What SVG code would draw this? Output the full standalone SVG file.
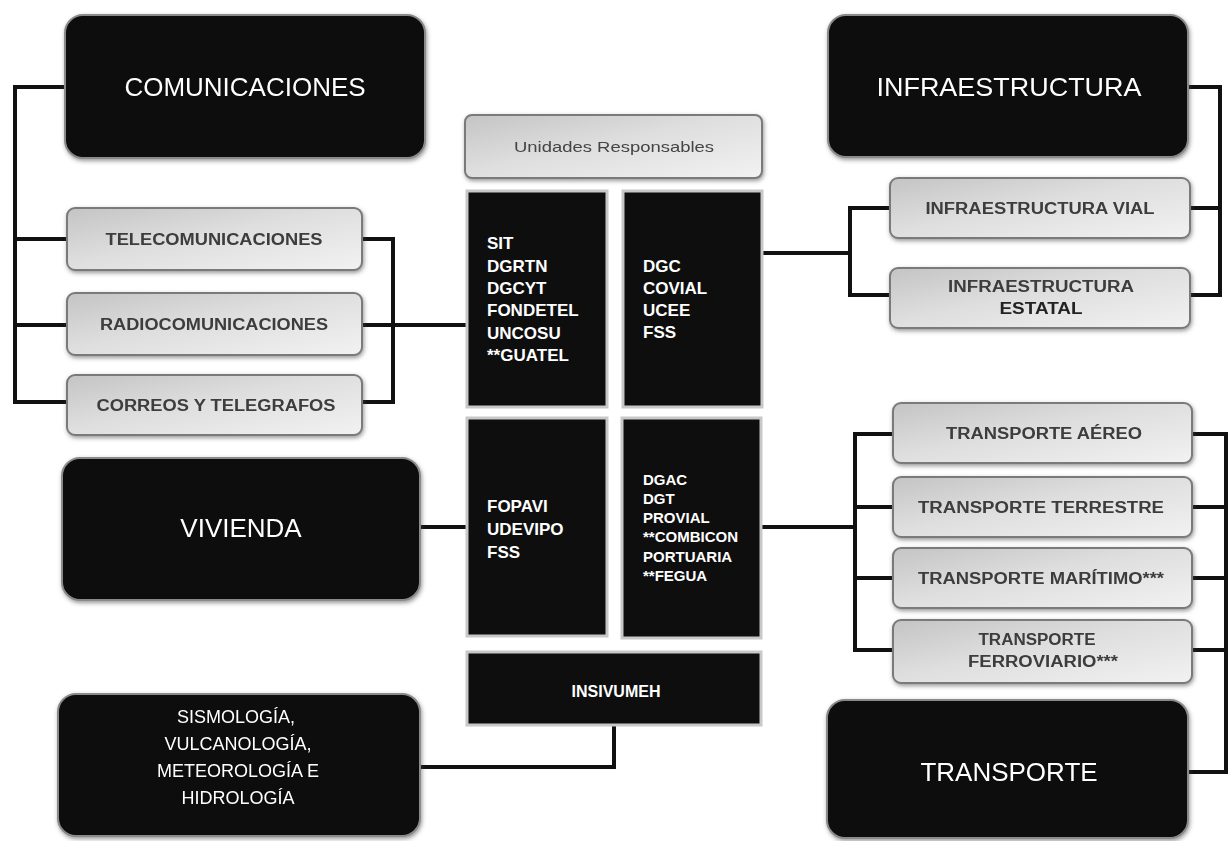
<svg xmlns="http://www.w3.org/2000/svg" width="1230" height="841" viewBox="0 0 1230 841">
  <defs>
    <linearGradient id="gSub" x1="0" y1="0" x2="1" y2="1">
      <stop offset="0" stop-color="#c4c4c4"/>
      <stop offset="0.45" stop-color="#dedede"/>
      <stop offset="1" stop-color="#f2f2f2"/>
    </linearGradient>
    <filter id="shadow" x="-10%" y="-10%" width="120%" height="125%">
      <feDropShadow dx="1" dy="2" stdDeviation="2" flood-color="#444" flood-opacity="0.55"/>
    </filter>
  </defs>
  <style>
    .main { fill: #0b0b0b; stroke: #8a8a8a; stroke-width: 2; }
    .sub { fill: url(#gSub); stroke: #7a7a7a; stroke-width: 2; }
    .unit { fill: #0e0e0e; stroke: #c8c8c8; stroke-width: 3; }
    .big { font-family: "Liberation Sans", Arial, sans-serif; font-size: 26px; fill: #fff; text-anchor: middle; }
    .mid { font-family: "Liberation Sans", Arial, sans-serif; font-size: 18px; fill: #fff; text-anchor: middle; }
    .lbl { font-family: "Liberation Sans", Arial, sans-serif; font-size: 16px; font-weight: bold; fill: #3c3c3c; text-anchor: middle; }
    .unidades { font-family: "Liberation Sans", Arial, sans-serif; font-size: 15px; fill: #444; text-anchor: middle; }
    .code { font-family: "Liberation Sans", Arial, sans-serif; font-size: 17px; font-weight: bold; fill: #fff; }
    .codeS { font-family: "Liberation Sans", Arial, sans-serif; font-size: 15px; font-weight: bold; fill: #fff; }
    .wire { fill: none; stroke: #111; stroke-width: 4; stroke-linejoin: miter; }
  </style>
  <rect width="1230" height="841" fill="#ffffff"/>

  <!-- connectors -->
  <g id="connectors" class="wire">
    <!-- comunicaciones branch -->
    <path d="M65 87 H15 V402 H67"/>
    <path d="M15 239 H67"/>
    <path d="M15 325 H67"/>
    <path d="M362 239 H393 V402 H362"/>
    <path d="M362 325 H467"/>
    <!-- infraestructura branch -->
    <path d="M1188 87 H1220 V295 H1190"/>
    <path d="M1190 208 H1220"/>
    <path d="M890 208 H850 V295 H890"/>
    <path d="M762 253 H850"/>
    <!-- vivienda -->
    <path d="M420 527 H467"/>
    <!-- transporte branch -->
    <path d="M893 434 H855 V650 H893"/>
    <path d="M855 507 H893"/>
    <path d="M855 578 H893"/>
    <path d="M760 527 H855"/>
    <path d="M1192 434 H1226 V772 H1188"/>
    <path d="M1192 507 H1226"/>
    <path d="M1192 578 H1226"/>
    <path d="M1192 650 H1226"/>
    <!-- sismologia -->
    <path d="M420 767 H614 V725"/>
  </g>

  <!-- main black nodes -->
  <g id="comunicaciones" filter="url(#shadow)">
    <rect class="main" x="65" y="15" width="360" height="143" rx="18"/>
    <text class="big" x="245" y="96">COMUNICACIONES</text>
  </g>
  <g id="infraestructura" filter="url(#shadow)">
    <rect class="main" x="828" y="15" width="360" height="142" rx="18"/>
    <text class="big" x="1009" y="96" textLength="265" lengthAdjust="spacingAndGlyphs">INFRAESTRUCTURA</text>
  </g>
  <g id="vivienda" filter="url(#shadow)">
    <rect class="main" x="62" y="458" width="358" height="142" rx="18"/>
    <text class="big" x="241" y="537">VIVIENDA</text>
  </g>
  <g id="transporte" filter="url(#shadow)">
    <rect class="main" x="827" y="700" width="361" height="138" rx="18"/>
    <text class="big" x="1009" y="781">TRANSPORTE</text>
  </g>
  <g id="sismologia" filter="url(#shadow)">
    <rect class="main" x="58" y="694" width="362" height="142" rx="18"/>
    <text class="mid" x="236" y="723">SISMOLOGÍA,</text>
    <text class="mid" x="238" y="750">VULCANOLOGÍA,</text>
    <text class="mid" x="238" y="777">METEOROLOGÍA E</text>
    <text class="mid" x="238" y="804">HIDROLOGÍA</text>
  </g>

  <!-- sub nodes: comunicaciones -->
  <g id="telecomunicaciones" filter="url(#shadow)">
    <rect class="sub" x="67" y="208" width="295" height="62" rx="8"/>
    <text class="lbl" x="214" y="245" textLength="217" lengthAdjust="spacingAndGlyphs">TELECOMUNICACIONES</text>
  </g>
  <g id="radiocomunicaciones" filter="url(#shadow)">
    <rect class="sub" x="67" y="293" width="295" height="62" rx="8"/>
    <text class="lbl" x="214" y="330" textLength="228" lengthAdjust="spacingAndGlyphs">RADIOCOMUNICACIONES</text>
  </g>
  <g id="correos" filter="url(#shadow)">
    <rect class="sub" x="67" y="375" width="295" height="60" rx="8"/>
    <text class="lbl" x="216" y="411" textLength="239" lengthAdjust="spacingAndGlyphs">CORREOS Y TELEGRAFOS</text>
  </g>

  <!-- sub nodes: infraestructura -->
  <g id="infra-vial" filter="url(#shadow)">
    <rect class="sub" x="890" y="178" width="300" height="60" rx="8"/>
    <text class="lbl" x="1040" y="214" textLength="229" lengthAdjust="spacingAndGlyphs">INFRAESTRUCTURA VIAL</text>
  </g>
  <g id="infra-estatal" filter="url(#shadow)">
    <rect class="sub" x="890" y="268" width="300" height="60" rx="8"/>
    <text class="lbl" x="1041" y="292" textLength="186" lengthAdjust="spacingAndGlyphs">INFRAESTRUCTURA</text>
    <text class="lbl" x="1041" y="314" textLength="83" lengthAdjust="spacingAndGlyphs" style="fill:#222">ESTATAL</text>
  </g>

  <!-- sub nodes: transporte -->
  <g id="transporte-aereo" filter="url(#shadow)">
    <rect class="sub" x="893" y="403" width="299" height="60" rx="8"/>
    <text class="lbl" x="1044" y="439" textLength="196" lengthAdjust="spacingAndGlyphs">TRANSPORTE AÉREO</text>
  </g>
  <g id="transporte-terrestre" filter="url(#shadow)">
    <rect class="sub" x="893" y="477" width="299" height="60" rx="8"/>
    <text class="lbl" x="1041" y="513" textLength="246" lengthAdjust="spacingAndGlyphs">TRANSPORTE TERRESTRE</text>
  </g>
  <g id="transporte-maritimo" filter="url(#shadow)">
    <rect class="sub" x="893" y="548" width="299" height="60" rx="8"/>
    <text class="lbl" x="1041" y="584" textLength="246" lengthAdjust="spacingAndGlyphs">TRANSPORTE MARÍTIMO***</text>
  </g>
  <g id="transporte-ferroviario" filter="url(#shadow)">
    <rect class="sub" x="893" y="620" width="299" height="63" rx="8"/>
    <text class="lbl" x="1037" y="645" textLength="117" lengthAdjust="spacingAndGlyphs">TRANSPORTE</text>
    <text class="lbl" x="1043" y="667" textLength="150" lengthAdjust="spacingAndGlyphs">FERROVIARIO***</text>
  </g>

  <!-- central responsible units -->
  <g id="unidades-responsables" filter="url(#shadow)">
    <rect class="sub" x="465" y="115" width="297" height="63" rx="7"/>
    <text class="unidades" x="614" y="152" textLength="200" lengthAdjust="spacingAndGlyphs">Unidades Responsables</text>
  </g>
  <g id="unidades-comunicaciones">
    <rect class="unit" x="467" y="191" width="140" height="216"/>
    <text class="code" x="487" y="249">SIT</text>
    <text class="code" x="487" y="272">DGRTN</text>
    <text class="code" x="487" y="294">DGCYT</text>
    <text class="code" x="487" y="316">FONDETEL</text>
    <text class="code" x="487" y="339">UNCOSU</text>
    <text class="code" x="487" y="361">**GUATEL</text>
  </g>
  <g id="unidades-infraestructura">
    <rect class="unit" x="623" y="191" width="139" height="216"/>
    <text class="code" x="643" y="272">DGC</text>
    <text class="code" x="643" y="294">COVIAL</text>
    <text class="code" x="643" y="316">UCEE</text>
    <text class="code" x="643" y="338">FSS</text>
  </g>
  <g id="unidades-vivienda">
    <rect class="unit" x="467" y="418" width="140" height="218"/>
    <text class="code" x="487" y="512">FOPAVI</text>
    <text class="code" x="487" y="535">UDEVIPO</text>
    <text class="code" x="487" y="558">FSS</text>
  </g>
  <g id="unidades-transporte">
    <rect class="unit" x="622" y="418" width="139" height="220"/>
    <text class="codeS" x="643" y="485">DGAC</text>
    <text class="codeS" x="643" y="504">DGT</text>
    <text class="codeS" x="643" y="523">PROVIAL</text>
    <text class="codeS" x="643" y="542">**COMBICON</text>
    <text class="codeS" x="643" y="562">PORTUARIA</text>
    <text class="codeS" x="643" y="581">**FEGUA</text>
  </g>
  <g id="unidades-sismologia">
    <rect class="unit" x="467" y="652" width="294" height="73"/>
    <text class="code" x="616" y="697" text-anchor="middle" style="font-size:16px">INSIVUMEH</text>
  </g>
</svg>
